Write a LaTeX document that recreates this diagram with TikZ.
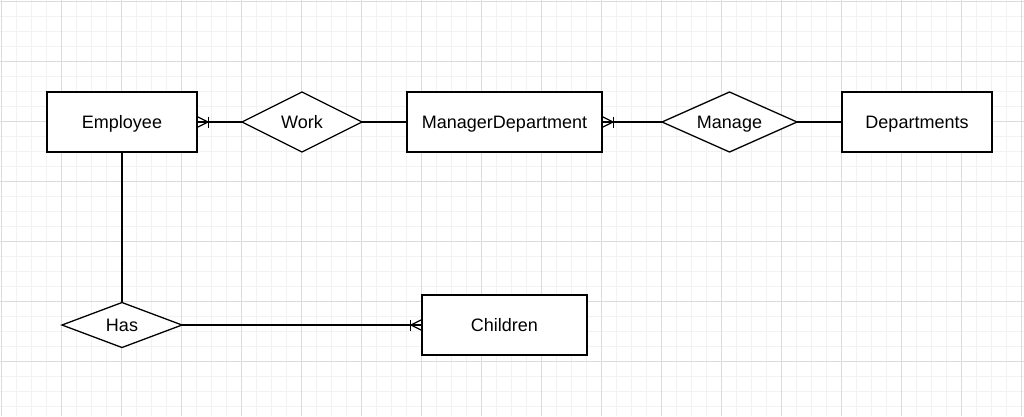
\documentclass[tikz,border=0pt]{standalone}
\usepackage{fontspec}
\setmainfont{Liberation Sans}
\usetikzlibrary{positioning, shapes.geometric}

\tikzstyle{entity} = [rectangle, minimum width = 150pt, minimum height = 60pt,
	inner sep = 0pt, outer sep = 0pt, text centered, text height = 13pt, text depth = 0pt,
	line width = 1.3pt, draw = black, fill = white, font = \fontsize{18}{22}\selectfont]
\tikzstyle{relation} = [diamond, aspect = 2, minimum width = 120pt, minimum height = 60pt,
	inner sep = 0pt, outer sep = 0pt, text height = 13pt, text depth = 0pt,
	line width = 1.3pt, draw = black, fill = white, font = \fontsize{18}{22}\selectfont]
\tikzstyle{link} = [line width = 1.3pt, line join = miter]
\tikzstyle{minorgrid} = [line width = 1pt, draw = black!5]
\tikzstyle{majorgrid} = [line width = 1pt, draw = black!14]

\begin{document}
\begin{tikzpicture}[x = 1pt, y = -1pt]

\useasboundingbox [fill = white] (0,0) rectangle (1024,416);

% background grid
\foreach \x in {1,16,...,1021}
	\draw [minorgrid] (\x,0) -- (\x,416);
\foreach \y in {1,16,...,406}
	\draw [minorgrid] (0,\y) -- (1024,\y);
\foreach \x in {1,61,...,1021}
	\draw [majorgrid] (\x,0) -- (\x,416);
\foreach \y in {1,61,...,406}
	\draw [majorgrid] (0,\y) -- (1024,\y);

% entities and relations
\node (emp) [entity] at (122,122) {Employee};

\node (work) [relation, right = 45pt of emp] {Work};

\node (mgrdep) [entity, minimum width = 195pt, right = 45pt of work] {ManagerDepartment};

\node (manage) [relation, minimum width = 135pt, right = 60pt of mgrdep] {Manage};

\node (dep) [entity, right = 45pt of manage] {Departments};

\node (has) [relation, minimum height = 45pt, below = 150.5pt of emp] {Has};

\node (child) [entity, minimum width = 165pt, right = 240pt of has] {Children};

% connectors
\draw [link] (emp) -- (work);
\draw [link] (work) -- (mgrdep);
\draw [link] (mgrdep) -- (manage);
\draw [link] (manage) -- (dep);
\draw [link] (emp) -- (has);
\draw [link] (has) -- (child);

% one or many ends
\draw [link] (emp.east) ++(0,-5.5) -- ++(11,5.5) -- ++(-11,5.5);
\draw [link] ([xshift = 11.5pt]emp.east) ++(0,-5.5) -- ++(0,11);

\draw [link] (mgrdep.east) ++(0,-5.5) -- ++(11,5.5) -- ++(-11,5.5);
\draw [link] ([xshift = 11.5pt]mgrdep.east) ++(0,-5.5) -- ++(0,11);

\draw [link] (child.west) ++(0,-5.5) -- ++(-11,5.5) -- ++(11,5.5);
\draw [link] ([xshift = -11.5pt]child.west) ++(0,-5.5) -- ++(0,11);
\end{tikzpicture}
\end{document}
